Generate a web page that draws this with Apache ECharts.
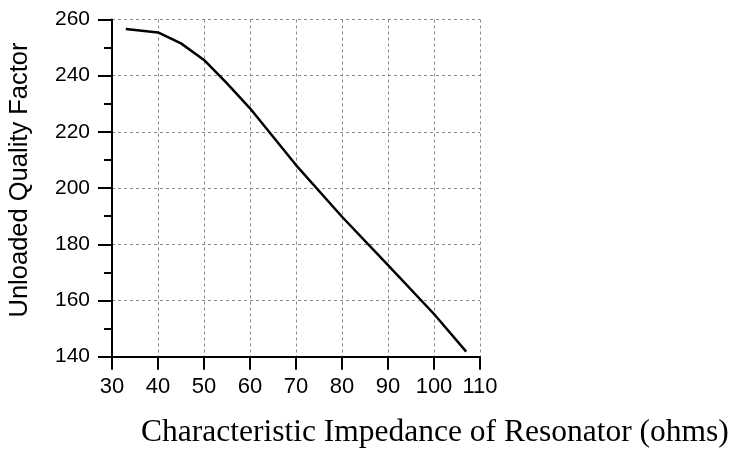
<!DOCTYPE html>
<html>
<head>
<meta charset="utf-8">
<script src="https://cdn.jsdelivr.net/npm/echarts@6/dist/echarts.min.js"></script>
<style>
  html, body { margin: 0; padding: 0; background: #fff; }
  #chart { width: 730px; height: 453px; }
</style>
</head>
<body>
<div id="chart"></div>
<script>
// impedance (ohms) vs unloaded Q
const impedance = [33, 40, 45, 50, 55, 60, 70, 80, 90, 100, 107];
const qFactor = [256.6, 255.4, 251.5, 245.6, 237.3, 228.4, 208.2, 189.8, 172.6, 155.2, 141.8];

const xTitle = 'Characteristic Impedance of Resonator (ohms)';
const yTitle = 'Unloaded Quality Factor';

const chart = echarts.init(document.getElementById('chart'));

const gridLine = {
  show: true,
  lineStyle: { color: '#8a8a8a', width: 1, type: [3, 3] }
};

chart.setOption({
  animation: false,
  backgroundColor: '#fff',
  title: {
    text: xTitle,
    left: 136,
    top: 412,
    textStyle: {
      fontFamily: 'Liberation Serif',
      fontWeight: 'normal',
      fontSize: 31.5,
      color: '#000'
    }
  },
  graphic: [
    {
      type: 'text',
      x: 20,
      y: 180,
      rotation: Math.PI / 2,
      style: {
        text: yTitle,
        align: 'center',
        verticalAlign: 'middle',
        font: '25.5px "Liberation Sans"',
        fill: '#000'
      }
    }
  ],
  grid: { left: 112, top: 19.5, right: 250, bottom: 96.3 },
  xAxis: {
    type: 'value',
    min: 30,
    max: 110,
    interval: 10,
    axisLine: { show: true, onZero: false, lineStyle: { color: '#000', width: 2 } },
    axisTick: { show: true, length: 13, lineStyle: { color: '#000', width: 2 } },
    axisLabel: {
      margin: 19,
      fontFamily: 'Liberation Sans',
      fontSize: 22,
      color: '#000'
    },
    splitLine: gridLine
  },
  yAxis: {
    type: 'value',
    min: 140,
    max: 260,
    interval: 20,
    axisLine: { show: true, onZero: false, lineStyle: { color: '#000', width: 2 } },
    axisTick: { show: true, length: 14, lineStyle: { color: '#000', width: 2 } },
    minorTick: { show: true, splitNumber: 2, length: 8, lineStyle: { color: '#000', width: 2 } },
    axisLabel: {
      margin: 22,
      fontFamily: 'Liberation Sans',
      fontSize: 21,
      color: '#000'
    },
    splitLine: gridLine
  },
  series: [
    {
      type: 'line',
      data: impedance.map((x, i) => [x, qFactor[i]]),
      showSymbol: false,
      lineStyle: { color: '#000', width: 2.5 }
    }
  ]
});
</script>
</body>
</html>
